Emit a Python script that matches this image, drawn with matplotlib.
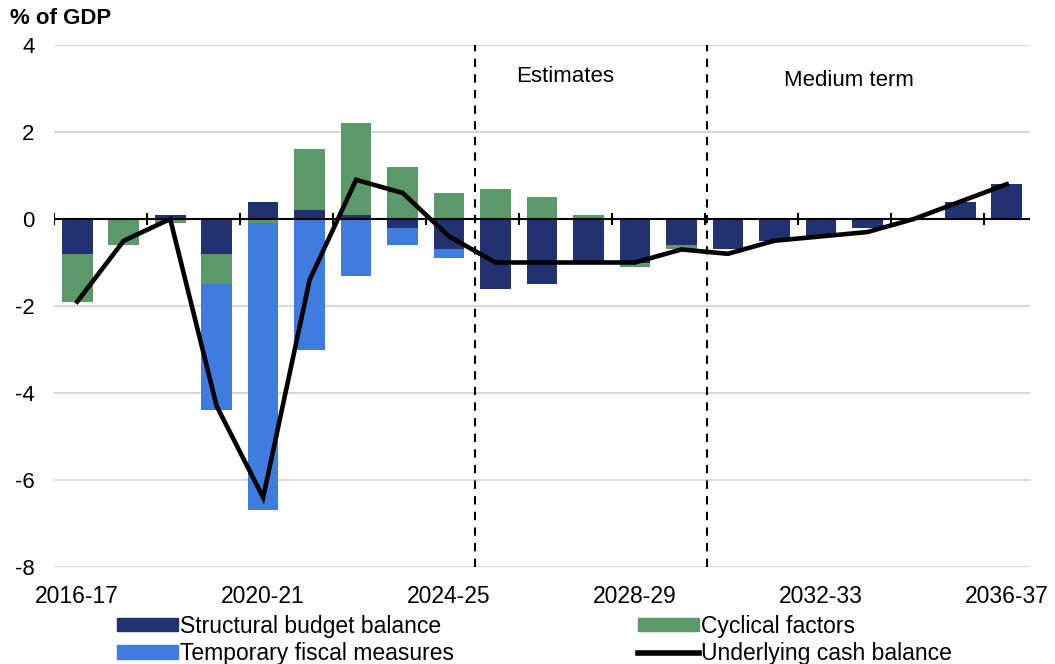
import numpy as np
import matplotlib
matplotlib.use("Agg")
import matplotlib.pyplot as plt
from matplotlib.patches import Patch
from matplotlib.lines import Line2D

plt.rcParams['font.family'] = ['Liberation Sans', 'DejaVu Sans']

years = ["2016-17", "2017-18", "2018-19", "2019-20", "2020-21", "2021-22", "2022-23",
         "2023-24", "2024-25", "2025-26", "2026-27", "2027-28", "2028-29", "2029-30",
         "2030-31", "2031-32", "2032-33", "2033-34", "2034-35", "2035-36", "2036-37"]
structural = [-0.8, 0.0, 0.1, -0.8, 0.4, 0.2, 0.1, -0.2, -0.7, -1.6, -1.5, -1.0, -1.0, -0.6,
              -0.7, -0.5, -0.4, -0.2, 0.0, 0.4, 0.8]
cyclical = [-1.1, -0.6, -0.1, -0.7, -0.1, 1.4, 2.1, 1.2, 0.6, 0.7, 0.5, 0.1, -0.1, -0.1,
            0.0, 0.0, 0.0, 0.0, 0.0, 0.0, 0.0]
temporary = [0.0, 0.0, 0.0, -2.9, -6.6, -3.0, -1.3, -0.4, -0.2, 0.0, 0.0, 0.0, 0.0, 0.0,
             0.0, 0.0, 0.0, 0.0, 0.0, 0.0, 0.0]
cash = [-1.9, -0.5, 0.0, -4.3, -6.4, -1.4, 0.9, 0.6, -0.4, -1.0, -1.0, -1.0, -1.0, -0.7,
        -0.8, -0.5, -0.4, -0.3, 0.0, 0.4, 0.8]
series_names = ["Structural budget balance", "Cyclical factors",
                "Temporary fiscal measures", "Underlying cash balance"]
phase_labels = ["Estimates", "Medium term"]

c_struct = "#22316f"
c_cyc = "#5b9a68"
c_temp = "#407be0"

fig = plt.figure(figsize=(10.55, 6.64), dpi=100)
ax = fig.add_axes([54 / 1055, 1 - 567 / 664, (1030 - 54) / 1055, (567 - 45) / 664])

x = np.arange(len(years))
pos_base = np.zeros(len(years))
neg_base = np.zeros(len(years))
w = 0.66
for vals, col in [(structural, c_struct), (cyclical, c_cyc), (temporary, c_temp)]:
    v = np.array(vals)
    bottoms = np.where(v >= 0, pos_base, neg_base)
    ax.bar(x, v, bottom=bottoms, width=w, color=col, zorder=3, linewidth=0)
    pos_base = pos_base + np.where(v > 0, v, 0)
    neg_base = neg_base + np.where(v < 0, v, 0)

ax.plot(x, cash, color="black", lw=3.3, zorder=5, solid_joinstyle="miter")

ax.set_xlim(-0.5, len(years) - 0.5)
ax.set_ylim(-8, 4)
ax.set_yticks(np.arange(-8, 5, 2))
ax.set_yticklabels([str(v) for v in range(-8, 5, 2)], fontsize=16)
ax.yaxis.grid(True, color="#d9d9d9", lw=1.5, zorder=0)
ax.set_axisbelow(True)
ax.tick_params(axis="y", length=0, pad=14)
ax.set_xticks(x[::4])
ax.set_xticklabels(years[::4], fontsize=16.5)
ax.tick_params(axis="x", length=0, pad=13)
for s in ax.spines.values():
    s.set_visible(False)

# zero line with category tick marks
ax.axhline(0, color="black", lw=1.5, zorder=4)
bounds = np.arange(-0.5, len(years) - 1, 2)
ax.vlines(bounds, -0.13, 0.13, color="black", lw=1.5, zorder=4)

# phase dividers
for xv in [8.55, 13.55]:
    ax.axvline(xv, color="black", lw=1.5, ls=(0, (4, 3.5)), zorder=4)
ax.text(10.5, 3.27, phase_labels[0], ha="center", va="center", fontsize=16)
ax.text(16.6, 3.18, phase_labels[1], ha="center", va="center", fontsize=16)

fig.text(10 / 1055, 1 - 18 / 664, "% of GDP", fontsize=16, fontweight="bold",
         ha="left", va="center")

handles = [Patch(color=c_struct), Patch(color=c_temp), Patch(color=c_cyc),
           Line2D([0], [0], color="black", lw=4)]
labels = [series_names[0], series_names[2], series_names[1], series_names[3]]
leg = fig.legend(handles, labels, ncol=2, loc="upper left",
                 bbox_to_anchor=(117 / 1055, 1 - 615 / 664), frameon=False,
                 fontsize=16.5, handlelength=2.66, handleheight=0.5, handletextpad=0.1,
                 labelspacing=0.18, columnspacing=8.0, borderpad=0, borderaxespad=0)

fig.savefig("out.png", dpi=100)
